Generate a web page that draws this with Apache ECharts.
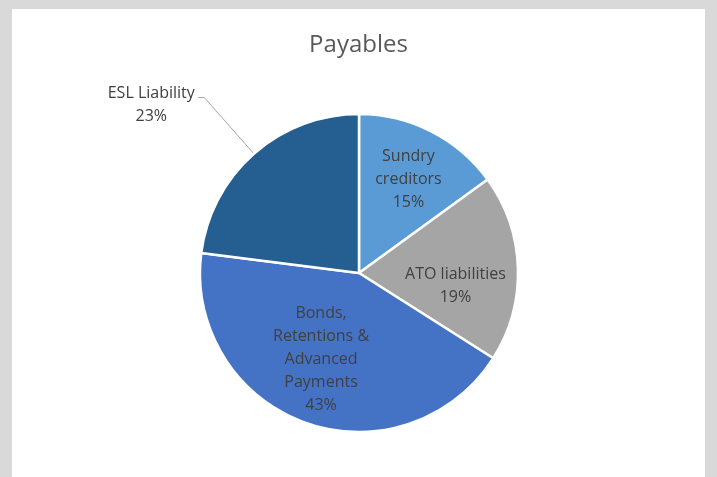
<!DOCTYPE html>
<html>
<head>
<meta charset="utf-8">
<script src="https://cdn.jsdelivr.net/npm/echarts@6/dist/echarts.min.js"></script>
<style>
  html, body { margin: 0; padding: 0; background: #d9d9d9; }
  #chart { width: 717px; height: 477px; }
</style>
</head>
<body>
<div id="chart"></div>
<script>
// Payables breakdown (percent of total)
const categories = ['Sundry\ncreditors', 'ATO liabilities', 'Bonds,\nRetentions &\nAdvanced\nPayments', 'ESL Liability'];
const shares = [15, 19, 43, 23];
const sliceColors = ['#5B9BD5', '#A5A5A5', '#4472C4', '#255E91'];

const FONT = '"Open Sans", "Noto Sans", sans-serif';

// label placement tweaks per slice
const labelSettings = [
  { position: 'inside', offset: [12, -20] },
  { position: 'inside', offset: [14, 16] },
  { position: 'inside', offset: [-10, 9] },
  { position: 'outside', offset: [0, 0] }
];

const data = categories.map((name, i) => {
  const outside = labelSettings[i].position === 'outside';
  return {
    name: name,
    value: shares[i],
    itemStyle: { color: sliceColors[i] },
    label: outside ? {
      position: 'outside',
      // centre each line within the block, nudge the text below the leader line
      formatter: (p) => p.name.split('\n').map(s => '{c|' + s + '}').join('\n') + '\n{c|' + p.value + '%}',
      padding: [15, 0, 0, 0],
      distanceToLabelLine: 4,
      rich: {
        c: { width: 86, align: 'center', fontFamily: FONT, fontSize: 16, lineHeight: 23, color: '#404040' }
      }
    } : {
      position: 'inside',
      offset: labelSettings[i].offset
    },
    labelLine: { show: outside }
  };
});

const chart = echarts.init(document.getElementById('chart'), null, { renderer: 'canvas' });
chart.setOption({
  backgroundColor: '#d9d9d9',
  animation: false,
  graphic: [{
    type: 'rect',
    z: -10,
    shape: { x: 12, y: 9, width: 693, height: 468 },
    style: { fill: '#ffffff' }
  }],
  title: {
    text: 'Payables',
    left: 'center',
    top: 28,
    textStyle: { fontFamily: FONT, fontSize: 24, fontWeight: 'normal', color: '#595959' }
  },
  series: [{
    type: 'pie',
    center: [359, 273],
    radius: 159,
    startAngle: 90,
    clockwise: true,
    avoidLabelOverlap: false,
    itemStyle: { borderColor: '#ffffff', borderWidth: 2.5 },
    emphasis: { disabled: true },
    label: {
      show: true,
      formatter: (p) => p.name + '\n' + p.value + '%',
      fontFamily: FONT,
      fontSize: 16,
      lineHeight: 23,
      color: '#404040',
      align: 'center'
    },
    labelLine: {
      show: true,
      length: 75,
      length2: 6,
      smooth: false,
      lineStyle: { color: '#a6a6a6', width: 1 }
    },
    data: data
  }]
});
</script>
</body>
</html>
